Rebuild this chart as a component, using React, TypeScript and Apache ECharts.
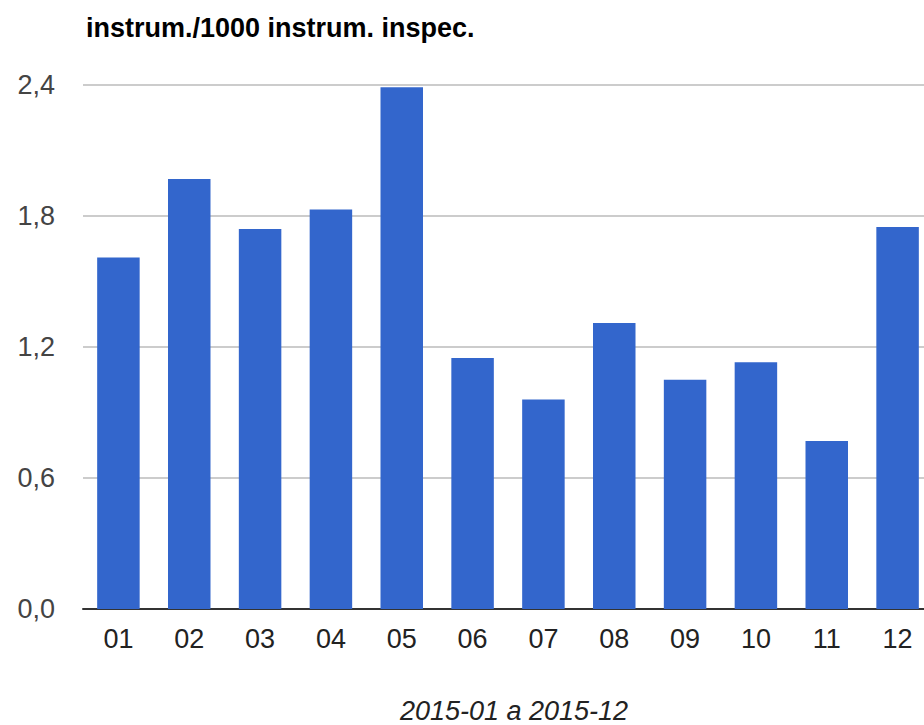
import React, { useEffect, useRef } from "react";
import * as echarts from "echarts";

const categories = ["01", "02", "03", "04", "05", "06", "07", "08", "09", "10", "11", "12"];
const values = [1.61, 1.97, 1.74, 1.83, 2.39, 1.15, 0.96, 1.31, 1.05, 1.13, 0.77, 1.75];
const titleText = "instrum./1000 instrum. inspec.";
const xAxisTitle = "2015-01 a 2015-12";

export default function App() {
  const ref = useRef<HTMLDivElement>(null);
  useEffect(() => {
    if (!ref.current) return;
    const chart = echarts.init(ref.current, null, { renderer: "svg" });
    const font = "'Liberation Sans', Arial, sans-serif";
    chart.setOption({
      animation: false,
      backgroundColor: "#ffffff",
      title: {
        text: titleText,
        left: 81,
        top: 9,
        textStyle: { fontFamily: font, fontSize: 27, fontWeight: "bold", color: "#000000" },
      },
      grid: { left: 83, right: 27, top: 85, bottom: 116, outerBoundsMode: "none", containLabel: false },
      xAxis: {
        type: "category",
        data: categories,
        name: xAxisTitle,
        nameLocation: "middle",
        nameGap: 88,
        nameTextStyle: { fontFamily: font, fontSize: 27, fontStyle: "italic", color: "#222222", padding: [0, 0, 0, 12] },
        axisLine: { lineStyle: { color: "#333333", width: 2 } },
        axisTick: { show: false },
        axisLabel: { fontFamily: font, fontSize: 27, color: "#222222", margin: 16 },
      },
      yAxis: {
        type: "value",
        min: 0,
        max: 2.4,
        interval: 0.6,
        axisLine: { show: false },
        axisTick: { show: false },
        splitLine: { lineStyle: { color: "#cccccc", width: 2 } },
        axisLabel: {
          fontFamily: font,
          fontSize: 27,
          color: "#444444",
          margin: 28,
          formatter: (v: number) => v.toFixed(1).replace(".", ","),
        },
      },
      series: [
        {
          type: "bar",
          data: values,
          barCategoryGap: "40%",
          itemStyle: { color: "#3366cc" },
        },
      ],
    });
    return () => chart.dispose();
  }, []);
  return (
    <div style={{ position: "fixed", left: 0, top: 0, width: 924, height: 725, overflow: "hidden", background: "#fff" }}>
      <div ref={ref} style={{ width: 960, height: 725 }} />
    </div>
  );
}
